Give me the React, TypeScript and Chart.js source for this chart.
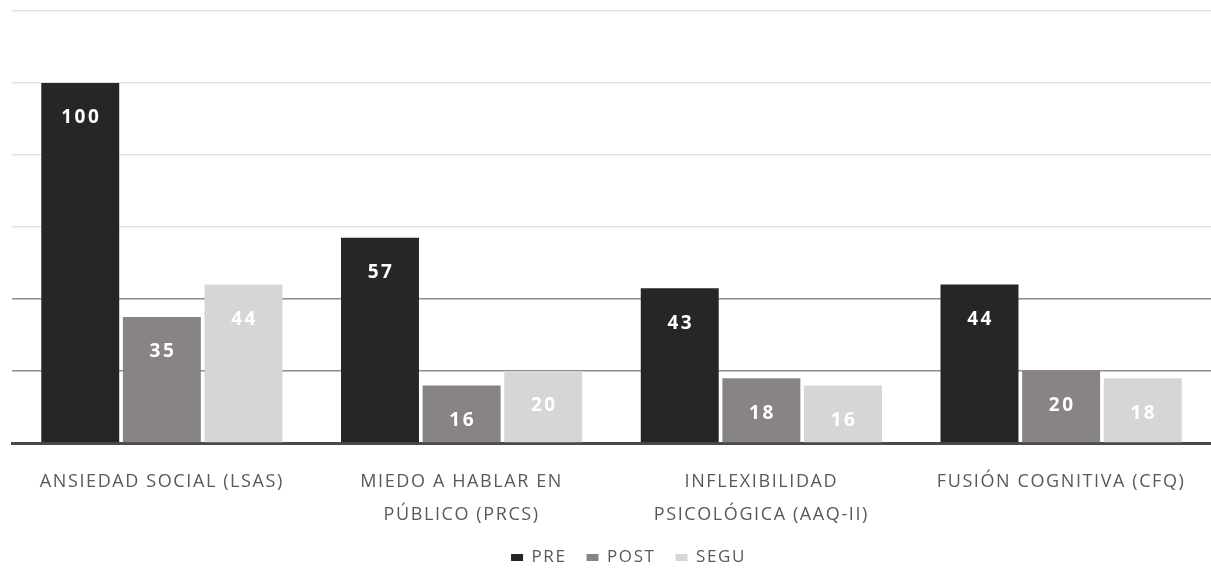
import React, { useEffect, useRef } from "react";
import { Chart, registerables } from "chart.js";

Chart.register(...registerables);

// Category labels (two-line labels are split into arrays)
const categories: (string | string[])[] = [
  "ANSIEDAD SOCIAL (LSAS)",
  ["MIEDO A HABLAR EN", "PÚBLICO (PRCS)"],
  ["INFLEXIBILIDAD", "PSICOLÓGICA (AAQ-II)"],
  "FUSIÓN COGNITIVA (CFQ)",
];

const seriesNames = ["PRE", "POST", "SEGU"];
const preValues = [100, 57, 43, 44];
const postValues = [35, 16, 18, 20];
const seguValues = [44, 20, 16, 18];
const seriesColors = ["#262626", "#888484", "#d7d5d6"];

const yMin = 0;
const yMax = 120;
const yStep = 20;

const FONT = "'Open Sans', sans-serif";
const SPACING = "1.6px";

// Tracked-out text for axis and legend labels; the context state is reset
// whenever the canvas is resized, so it is applied before measuring and drawing.
const textSpacing = {
  id: "textSpacing",
  beforeUpdate(chart: any) {
    (chart.ctx as any).letterSpacing = SPACING;
  },
  beforeLayout(chart: any) {
    (chart.ctx as any).letterSpacing = SPACING;
  },
  beforeDraw(chart: any) {
    (chart.ctx as any).letterSpacing = SPACING;
  },
};

// Nudges the legend row a little to the right of the canvas centre
const legendOffset = {
  id: "legendOffset",
  afterLayout(chart: any) {
    if (chart.legend) {
      chart.legend.left += 17;
      chart.legend.right += 17;
    }
  },
};

// Writes each bar's value inside the bar, just below its top edge
const valueLabels = {
  id: "valueLabels",
  afterDraw(chart: any) {
    const ctx = chart.ctx;
    ctx.save();
    ctx.font = `bold 19px ${FONT}`;
    (ctx as any).letterSpacing = "2.5px";
    ctx.fillStyle = "#ffffff";
    ctx.textAlign = "center";
    ctx.textBaseline = "middle";
    chart.data.datasets.forEach((ds: any, di: number) => {
      const meta = chart.getDatasetMeta(di);
      meta.data.forEach((el: any, i: number) => {
        ctx.fillText(String(ds.data[i]), el.x + 1, el.y + 35);
      });
    });
    ctx.restore();
  },
};

export default function App() {
  const canvasRef = useRef<HTMLCanvasElement | null>(null);

  useEffect(() => {
    if (!canvasRef.current) return;
    const values = [preValues, postValues, seguValues];
    const chart = new Chart(canvasRef.current, {
      type: "bar",
      data: {
        labels: categories,
        datasets: seriesNames.map((name, i) => ({
          label: name,
          data: values[i],
          backgroundColor: seriesColors[i],
          borderWidth: 0,
          categoryPercentage: 0.817,
          barPercentage: 0.955,
        })),
      },
      options: {
        animation: false,
        responsive: false,
        maintainAspectRatio: false,
        layout: { padding: { left: 12, top: 11, right: 0, bottom: -5 } },
        plugins: {
          tooltip: { enabled: false },
          legend: {
            position: "bottom",
            labels: {
              boxWidth: 12,
              boxHeight: 7,
              padding: 20,
              color: "#595959",
              font: { family: FONT, size: 17 },
            },
          },
        },
        scales: {
          x: {
            z: 1,
            grid: { display: false, drawTicks: false },
            border: { display: true, color: "#4a4a4a", width: 3 },
            ticks: {
              color: "#595959",
              padding: 23,
              font: { family: FONT, size: 18, lineHeight: 1.8 },
            },
            afterFit(scale: any) {
              scale.height = 86;
            },
          },
          y: {
            z: 1,
            min: yMin,
            max: yMax,
            ticks: { display: false, stepSize: yStep },
            border: { display: false },
            grid: {
              drawTicks: false,
              lineWidth: 1.5,
              color: (c: any) => {
                const v = c.tick ? c.tick.value : 0;
                if (v === 0) return "rgba(0,0,0,0)";
                if (v <= 40) return "rgba(0,0,0,0.45)";
                return "rgba(0,0,0,0.11)";
              },
            },
          },
        },
      },
      plugins: [textSpacing, legendOffset, valueLabels],
    });
    return () => chart.destroy();
  }, []);

  return (
    <div style={{ position: "absolute", left: 0, top: 0, width: 1211, height: 571, background: "#ffffff" }}>
      <canvas ref={canvasRef} width={1211} height={571} />
    </div>
  );
}
